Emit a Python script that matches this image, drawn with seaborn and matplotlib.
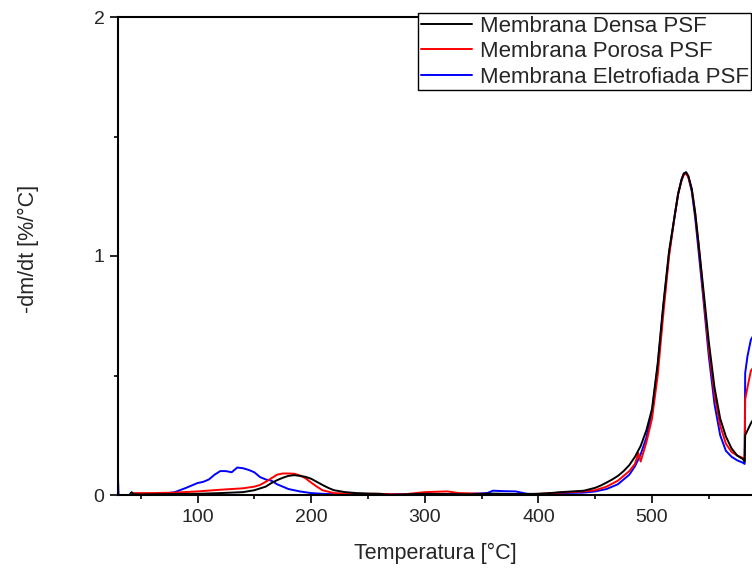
import numpy as np
import pandas as pd
import matplotlib
matplotlib.use("Agg")
import matplotlib.pyplot as plt
import seaborn as sns
from matplotlib.ticker import MultipleLocator

# --- Data ---
densa_t = [40, 42, 44, 50, 60, 80, 100, 120, 140, 150, 160, 165, 170, 175, 180, 185,
           190, 195, 200, 205, 210, 215, 220, 230, 240, 250, 260, 270, 280, 290, 300,
           320, 340, 360, 380, 400, 410, 420, 430, 440, 450, 455, 460, 465, 470, 475,
           480, 485, 490, 495, 500, 505, 510, 515, 520, 523, 526, 528, 530, 532, 535,
           538, 541, 545, 550, 555, 560, 565, 570, 575, 580, 581.5, 582, 584, 587, 600]
densa_v = [0.0, 0.012, 0.003, 0.002, 0.003, 0.004, 0.005, 0.008, 0.012, 0.02, 0.035,
           0.05, 0.062, 0.072, 0.08, 0.083, 0.08, 0.076, 0.068, 0.055, 0.042, 0.03,
           0.02, 0.012, 0.008, 0.006, 0.005, 0.0, 0.002, 0.004, 0.005, 0.004, 0.003,
           0.006, 0.004, 0.005, 0.008, 0.012, 0.015, 0.018, 0.03, 0.04, 0.052, 0.065,
           0.08, 0.1, 0.125, 0.16, 0.205, 0.27, 0.36, 0.55, 0.80, 1.02, 1.17, 1.26,
           1.32, 1.345, 1.35, 1.335, 1.28, 1.18, 1.05, 0.87, 0.64, 0.45, 0.32, 0.245,
           0.195, 0.165, 0.15, 0.14, 0.25, 0.27, 0.30, 0.40]

porosa_t = [44, 60, 80, 100, 120, 140, 150, 155, 160, 165, 170, 175, 180, 185, 190,
            195, 200, 205, 210, 220, 240, 260, 280, 300, 320, 330, 350, 380, 400, 420,
            440, 450, 460, 470, 480, 485, 488, 490, 495, 500, 505, 510, 515, 520, 523,
            526, 528, 530, 532, 535, 538, 541, 545, 550, 555, 560, 565, 570, 575, 580,
            581.5, 582, 584, 587, 600]
porosa_v = [0.008, 0.008, 0.01, 0.015, 0.022, 0.028, 0.035, 0.042, 0.055, 0.07, 0.085,
            0.09, 0.09, 0.089, 0.082, 0.07, 0.052, 0.035, 0.02, 0.008, 0.005, 0.005,
            0.002, 0.012, 0.015, 0.008, 0.005, 0.002, 0.005, 0.01, 0.015, 0.02, 0.035,
            0.06, 0.1, 0.13, 0.175, 0.14, 0.22, 0.32, 0.50, 0.76, 1.00, 1.17, 1.26,
            1.315, 1.34, 1.345, 1.33, 1.28, 1.18, 1.05, 0.85, 0.61, 0.42, 0.29, 0.215,
            0.18, 0.165, 0.155, 0.15, 0.40, 0.45, 0.52, 0.60]

eletro_t = [30, 30.5, 40, 50, 60, 70, 80, 90, 100, 105, 110, 115, 120, 125, 130, 135,
            140, 145, 150, 155, 160, 165, 170, 175, 180, 190, 200, 210, 220, 240, 260,
            280, 300, 320, 340, 355, 360, 370, 380, 390, 400, 420, 440, 450, 460, 470,
            480, 485, 490, 495, 500, 505, 510, 515, 520, 523, 526, 528, 530, 532, 535,
            538, 541, 545, 550, 555, 560, 565, 570, 575, 580, 581.5, 582, 584, 587, 600]
eletro_v = [0.07, 0.0, 0.0, 0.0, 0.003, 0.005, 0.012, 0.03, 0.05, 0.055, 0.065, 0.085,
            0.1, 0.1, 0.095, 0.115, 0.112, 0.105, 0.095, 0.075, 0.065, 0.06, 0.045,
            0.035, 0.025, 0.015, 0.008, 0.005, 0.003, 0.002, 0.004, 0.003, 0.002,
            0.004, 0.005, 0.008, 0.018, 0.016, 0.015, 0.005, 0.003, 0.008, 0.01,
            0.015, 0.025, 0.045, 0.085, 0.12, 0.17, 0.24, 0.35, 0.54, 0.79, 1.01,
            1.17, 1.26, 1.32, 1.345, 1.35, 1.33, 1.27, 1.16, 1.02, 0.83, 0.58, 0.38,
            0.25, 0.185, 0.16, 0.145, 0.135, 0.13, 0.51, 0.58, 0.65, 0.75]

labels = ["Membrana Densa PSF", "Membrana Porosa PSF", "Membrana Eletrofiada PSF"]
colors = ["#000000", "#ff0000", "#0000ff"]

# --- Style ---
sns.set_style("white")
plt.rcParams["font.family"] = ["Liberation Sans", "DejaVu Sans"]

fig = plt.figure(figsize=(7.52, 5.70), dpi=100)
ax = fig.add_axes([118 / 752, 75 / 570, 634 / 752, 478 / 570])

series = [(eletro_t, eletro_v, labels[2], colors[2]),
          (porosa_t, porosa_v, labels[1], colors[1]),
          (densa_t, densa_v, labels[0], colors[0])]

# draw blue first so black ends up on top, like the reference
for t, v, lab, col in series:
    df = pd.DataFrame({"T": t, "v": v})
    sns.lineplot(data=df, x="T", y="v", ax=ax, color=col, label=lab,
                 linewidth=1.4, sort=False, estimator=None)

ax.set_xlim(30, 588)
ax.set_ylim(0, 2)
ax.xaxis.set_major_locator(MultipleLocator(100))
ax.xaxis.set_minor_locator(MultipleLocator(50))
ax.yaxis.set_major_locator(MultipleLocator(1))
ax.yaxis.set_minor_locator(MultipleLocator(0.5))
ax.tick_params(which="major", direction="out", length=5.8, width=1.2,
               labelsize=14, pad=4, color="black")
ax.tick_params(which="minor", direction="out", length=3, width=1.2, color="black")
ax.tick_params(axis="both", which="both", bottom=True, left=True, top=False, right=False)

for side in ["left", "bottom", "top"]:
    ax.spines[side].set_color("black")
    ax.spines[side].set_linewidth(1.5)
ax.spines["right"].set_visible(False)

ax.set_xlabel("Temperatura [°C]", fontsize=15.5)
ax.set_ylabel("-dm/dt [%/°C]", fontsize=15.5)
ax.xaxis.set_label_coords(0.5, -0.100)
ax.yaxis.set_label_coords(-0.124, 0.515)

handles, labs = ax.get_legend_handles_labels()
order = [labs.index(l) for l in labels]
leg = ax.legend([handles[i] for i in order], [labs[i] for i in order],
                loc="upper right", bbox_to_anchor=(0.999, 557 / 570),
                bbox_transform=fig.transFigure, fontsize=16, frameon=True,
                fancybox=False, framealpha=1, edgecolor="black",
                handlelength=2.3, handletextpad=0.33, labelspacing=0.2,
                borderpad=0.12, borderaxespad=0)
leg.get_frame().set_linewidth(1.0)

fig.savefig("out.png", dpi=100)
